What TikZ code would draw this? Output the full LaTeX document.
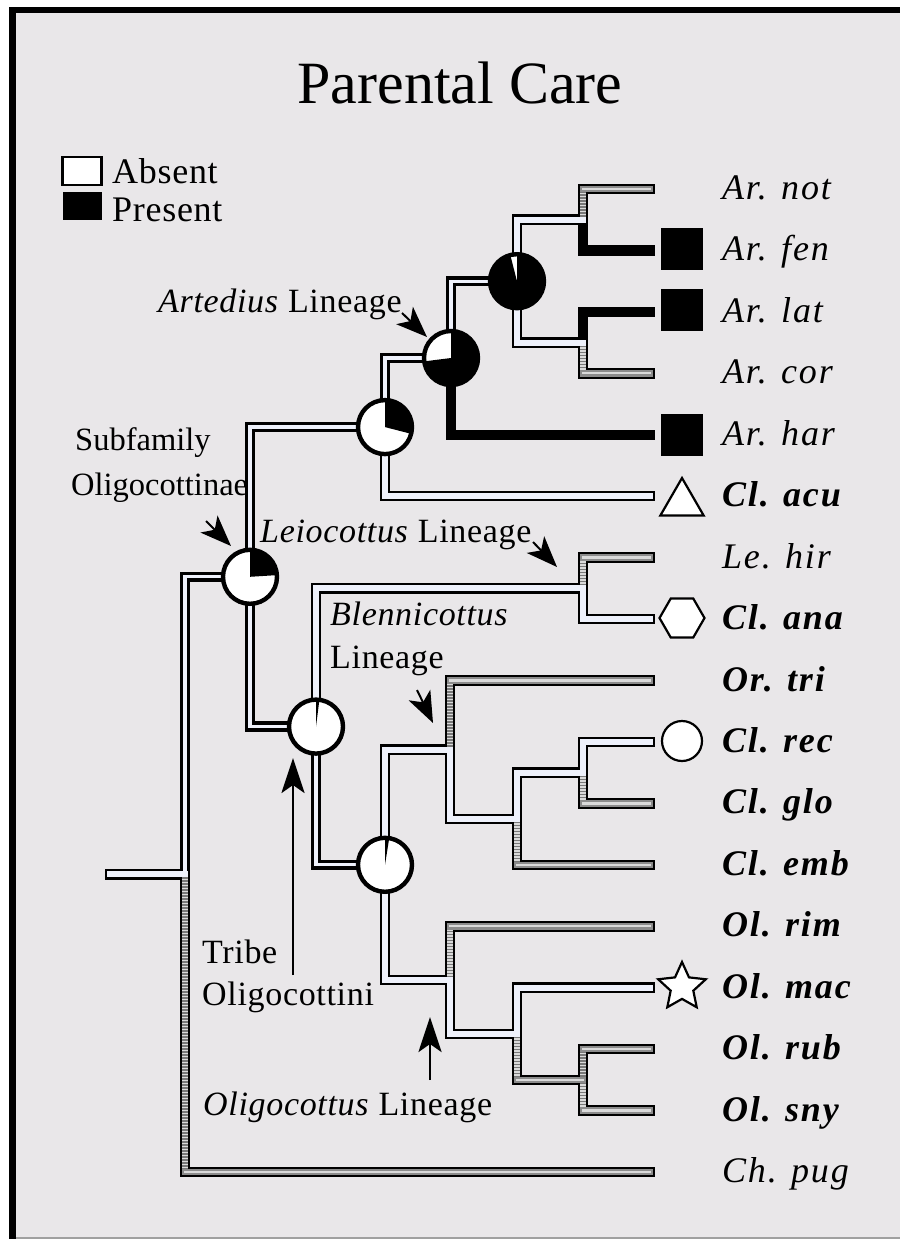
\documentclass[tikz,border=0pt]{standalone}
\usepackage{fontspec}
\setmainfont{Liberation Serif}
\newfontfamily\taxfont{Liberation Serif}[LetterSpace=5]
\newfontfamily\labfont{Liberation Serif}[LetterSpace=2]
\newfontfamily\keyfont{Liberation Serif}[LetterSpace=2]
\usetikzlibrary{arrows.meta,shapes.geometric}
\definecolor{panel}{RGB}{233,231,233}
\definecolor{absentfill}{RGB}{238,241,251}
\definecolor{eqdark}{RGB}{120,120,120}
\definecolor{eqlight}{RGB}{218,218,218}
\definecolor{rulegray}{RGB}{160,160,160}

\tikzset{
  brout/.style={line width=10.5pt, black, line cap=rect},
  brinW/.style={line width=6pt, absentfill, line cap=rect},
  brinS/.style={line width=3.3pt, absentfill, line cap=rect},
  eqvbase/.style={line width=6pt, eqlight, line cap=rect},
  eqvstripe/.style={line width=6pt, eqdark, line cap=butt, dash pattern=on 1.5pt off 1.5pt},
  eqhbase/.style={line width=6.4pt, eqdark!85!white, line cap=rect},
  eqhmid/.style={line width=2.3pt, eqlight, line cap=rect},
  pierim/.style={line width=4.4pt, black},
  presentbox/.style={rectangle, fill=black, minimum size=42pt, inner sep=0pt},
  tipshape/.style={draw=black, fill=white, line width=2.2pt, inner sep=0pt},
  taxon/.style={anchor=base west, inner sep=0pt, font=\taxfont\fontsize{36}{40}\selectfont\itshape},
  clade/.style={anchor=base west, inner sep=0pt, font=\labfont\fontsize{34}{40}\selectfont},
  rankname/.style={anchor=base west, inner sep=0pt, font=\fontsize{32.5}{40}\selectfont},
  keytext/.style={anchor=base west, inner sep=0pt, font=\keyfont\fontsize{36}{40}\selectfont},
  pointer/.style={line width=2pt, -{Stealth[length=31pt, width=24pt, inset=8pt]}},
  longpointer/.style={line width=2.8pt, -{Stealth[length=35pt, width=23pt, inset=8pt]}},
}

% branch layers: black outline, then the state fill
\newcommand\brOut[2]{\draw[brout] (#1) |- (#2);}
\newcommand\brAbs[2]{\draw[brinW] (#1) |- (#2);}
\newcommand\brEq[2]{%
  \draw[eqvbase] (#1) -- (#1 |- #2);
  \draw[eqvstripe] (#1) -- (#1 |- #2);
  \draw[eqhbase] (#1 |- #2) -- (#2);
  \draw[eqhmid] (#1 |- #2) -- (#2);}
\newcommand\brSplitUp[2]{\draw[brinS, shift={(-1.6,-1.6)}] (#1) |- (#2);}
\newcommand\brSplitDown[2]{\draw[brinS, shift={(1.6,-1.6)}] (#1) |- (#2);}
% ancestral state pie: black share measured clockwise from 12 o'clock
\newcommand\nodepie[2]{%
  \fill[white] (#1) circle[radius=27];
  \fill[black] (#1) -- ++(-90:27) arc[start angle=-90, end angle={-90+360*#2}, radius=27] -- cycle;
  \draw[pierim] (#1) circle[radius=27];}

\begin{document}
\begin{tikzpicture}[x=1pt, y=-1pt]
\useasboundingbox (0,0) rectangle (900,1239);

% panel and frame
\fill[white] (0,0) rectangle (900,1239);
\fill[panel] (12,10) rectangle (900,1239);
\fill[rulegray] (12,1236.6) rectangle (900,1239);
\fill[black] (9,7) rectangle (900,13.5);
\fill[black] (9,7) rectangle (15.5,1239);

\node[font=\fontsize{60}{70}\selectfont, anchor=base, inner sep=0pt] (title) at (460,103) {Parental Care};

% legend
\node[tipshape, rectangle, minimum width=39pt, minimum height=28pt] (key-abs-box) at (82,171) {};
\node[presentbox, minimum width=39pt, minimum height=28pt] (key-pre-box) at (82,206) {};
\node[keytext] (key-abs) at (112,183) {Absent};
\node[keytext] (key-pre) at (112,221.5) {Present};

% tips
\coordinate (t-not) at (650,189.0);
\coordinate (t-fen) at (650,250.4);
\coordinate (t-lat) at (650,311.9);
\coordinate (t-cor) at (650,373.3);
\coordinate (t-har) at (650,434.8);
\coordinate (t-acu) at (650,496.2);
\coordinate (t-hir) at (650,557.6);
\coordinate (t-ana) at (650,619.0);
\coordinate (t-tri) at (650,680.5);
\coordinate (t-rec) at (650,742.0);
\coordinate (t-glo) at (650,803.4);
\coordinate (t-emb) at (650,864.8);
\coordinate (t-rim) at (650,926.3);
\coordinate (t-mac) at (650,987.7);
\coordinate (t-rub) at (650,1049.2);
\coordinate (t-sny) at (650,1110.6);
\coordinate (t-pug) at (650,1172.0);
% internal nodes
\coordinate (nf) at (583,219.7);
\coordinate (lc) at (583,342.6);
\coordinate (u4) at (517,281.2);
\coordinate (art) at (451,358.0);
\coordinate (artacu) at (385,427.1);
\coordinate (subf) at (250,576.8);
\coordinate (root) at (185,874.4);
\coordinate (stub) at (110,874.4);
\coordinate (leio) at (583,588.3);
\coordinate (lo) at (316,726.6);
\coordinate (olg) at (385,864.8);
\coordinate (blen) at (450,749.6);
\coordinate (rge) at (517,818.8);
\coordinate (rg) at (583,772.7);
\coordinate (olc) at (450,980.0);
\coordinate (mrs) at (517,1033.8);
\coordinate (rs) at (583,1079.8);

% outlines
\draw[brout] (stub) -- (root);
\brOut{root}{subf} \brOut{root}{t-pug}
\brOut{subf}{artacu} \brOut{subf}{lo}
\brOut{artacu}{art} \brOut{artacu}{t-acu}
\brOut{art}{u4} \brOut{art}{t-har}
\brOut{u4}{nf} \brOut{u4}{lc}
\brOut{nf}{t-not} \brOut{nf}{t-fen}
\brOut{lc}{t-lat} \brOut{lc}{t-cor}
\brOut{lo}{leio} \brOut{lo}{olg}
\brOut{leio}{t-hir} \brOut{leio}{t-ana}
\brOut{olg}{blen} \brOut{olg}{olc}
\brOut{blen}{t-tri} \brOut{blen}{rge}
\brOut{rge}{rg} \brOut{rge}{t-emb}
\brOut{rg}{t-rec} \brOut{rg}{t-glo}
\brOut{olc}{t-rim} \brOut{olc}{mrs}
\brOut{mrs}{t-mac} \brOut{mrs}{rs}
\brOut{rs}{t-rub} \brOut{rs}{t-sny}

% state fills, tips first
\brEq{rs}{t-sny} \brEq{rs}{t-rub}
\brEq{mrs}{rs} \brAbs{mrs}{t-mac}
\brAbs{olc}{mrs} \brEq{olc}{t-rim}
\brEq{rg}{t-glo} \brAbs{rg}{t-rec}
\brEq{rge}{t-emb} \brAbs{rge}{rg}
\brAbs{blen}{rge} \brEq{blen}{t-tri}
\brAbs{olg}{olc} \brAbs{olg}{blen}
\brAbs{leio}{t-ana} \brEq{leio}{t-hir}
\brSplitDown{lo}{olg} \brAbs{lo}{leio}
\brEq{lc}{t-cor}
\brEq{nf}{t-not}
\brAbs{u4}{lc} \brAbs{u4}{nf}
\brSplitUp{art}{u4}
\brAbs{artacu}{t-acu} \brSplitUp{artacu}{art}
\brSplitDown{subf}{lo} \brSplitUp{subf}{artacu}
\brEq{root}{t-pug} \brSplitUp{root}{subf}
\draw[brinW] (stub) -- (root);

% ancestral states
\nodepie{subf}{0.24}
\nodepie{artacu}{0.29}
\nodepie{art}{0.73}
\nodepie{u4}{0.96}
\nodepie{lo}{0.02}
\nodepie{olg}{0.025}

% tip states
\node[presentbox] (m-fen) at (682,248.7) {};
\node[presentbox] (m-lat) at (682,309.6) {};
\node[presentbox] (m-har) at (682,434.5) {};
\node[tipshape, regular polygon, regular polygon sides=3, minimum size=50pt] (m-acu) at (682,503) {};
\node[tipshape, regular polygon, regular polygon sides=6, minimum size=45pt] (m-ana) at (682,618) {};
\node[tipshape, circle, minimum size=40pt] (m-rec) at (682,741) {};
\node[tipshape, star, star points=5, star point ratio=2.1, minimum size=50pt] (m-mac) at (682,987) {};

% taxon names
\node[taxon] (l-not) at (722,199.5) {Ar. not};
\node[taxon] (l-fen) at (722,260.9) {Ar. fen};
\node[taxon] (l-lat) at (722,322.4) {Ar. lat};
\node[taxon] (l-cor) at (722,383.8) {Ar. cor};
\node[taxon] (l-har) at (722,445.3) {Ar. har};
\node[taxon] (l-acu) at (722,506.7) {\bfseries Cl. acu};
\node[taxon] (l-hir) at (722,568.1) {Le. hir};
\node[taxon] (l-ana) at (722,629.5) {\bfseries Cl. ana};
\node[taxon] (l-tri) at (722,691.0) {\bfseries Or. tri};
\node[taxon] (l-rec) at (722,752.5) {\bfseries Cl. rec};
\node[taxon] (l-glo) at (722,813.9) {\bfseries Cl. glo};
\node[taxon] (l-emb) at (722,875.3) {\bfseries Cl. emb};
\node[taxon] (l-rim) at (722,936.8) {\bfseries Ol. rim};
\node[taxon] (l-mac) at (722,998.2) {\bfseries Ol. mac};
\node[taxon] (l-rub) at (722,1059.7) {\bfseries Ol. rub};
\node[taxon] (l-sny) at (722,1121.1) {\bfseries Ol. sny};
\node[taxon] (l-pug) at (722,1182.5) {Ch. pug};

% clade labels
\node[clade] (c-art) at (158,312) {\textit{Artedius} Lineage};
\node[rankname] (c-sub1) at (75,450) {Subfamily};
\node[rankname] (c-sub2) at (71,495) {Oligocottinae};
\node[clade] (c-leio) at (260,542) {\textit{Leiocottus} Lineage};
\node[clade] (c-blen1) at (330,625) {\textit{Blennicottus}};
\node[clade] (c-blen2) at (330,668) {Lineage};
\node[clade] (c-tribe1) at (202,963) {Tribe};
\node[clade] (c-tribe2) at (202,1005) {Oligocottini};
\node[clade] (c-olc) at (203,1115) {\textit{Oligocottus} Lineage};

% pointers
\coordinate (p-art-s) at (402,313);   \coordinate (p-art-e) at (427,337);
\coordinate (p-sub-s) at (206,521);   \coordinate (p-sub-e) at (231,546);
\coordinate (p-leio-s) at (533,542);  \coordinate (p-leio-e) at (557,567);
\coordinate (p-blen-s) at (417,690);  \coordinate (p-blen-e) at (433,723);
\coordinate (p-tribe-s) at (293,975); \coordinate (p-tribe-e) at (293,758);
\coordinate (p-olc-s) at (430,1080);  \coordinate (p-olc-e) at (430,1017);
\draw[pointer] (p-art-s) -- (p-art-e);
\draw[pointer] (p-sub-s) -- (p-sub-e);
\draw[pointer] (p-leio-s) -- (p-leio-e);
\draw[pointer] (p-blen-s) -- (p-blen-e);
\draw[longpointer] (p-tribe-s) -- (p-tribe-e);
\draw[longpointer] (p-olc-s) -- (p-olc-e);
\end{tikzpicture}
\end{document}
